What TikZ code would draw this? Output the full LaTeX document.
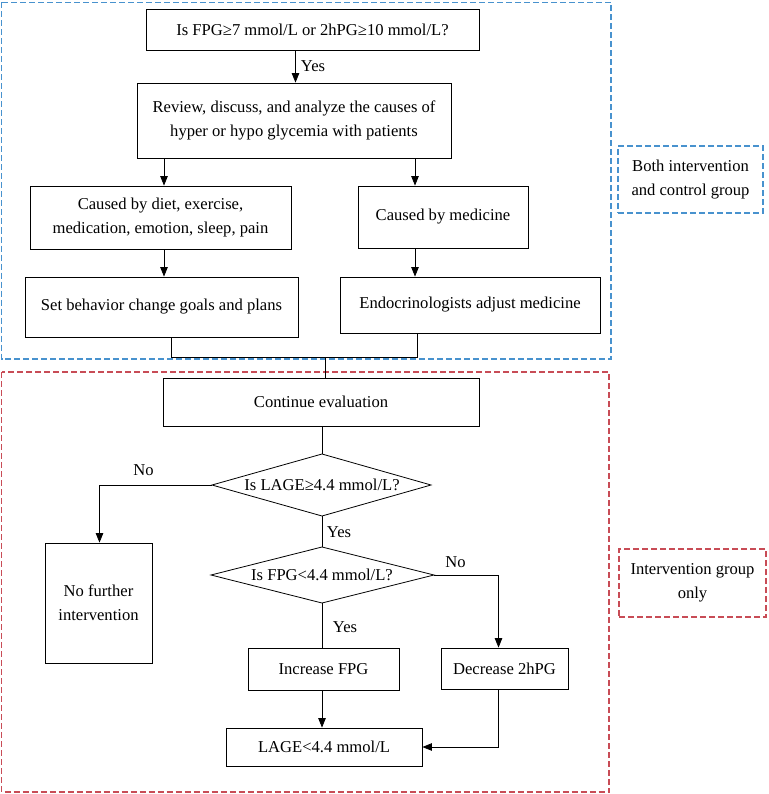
\documentclass[tikz,border=0pt]{standalone}
\usepackage{fontspec}
\setmainfont{Liberation Serif}
\usetikzlibrary{arrows.meta}
\definecolor{grpblue}{RGB}{72,146,206}
\definecolor{grpred}{RGB}{200,76,86}
\newcommand{\fsz}{\fontsize{16.6}{24}\selectfont}
\begin{document}
\begin{tikzpicture}[x=1pt,y=-1pt,
  box/.style={draw, line width=0.8pt, inner sep=0pt, align=center, font=\fsz},
  lbl/.style={inner sep=0pt, align=center, font=\fsz},
  arr/.style={line width=0.8pt, -{Triangle[length=9.5pt,width=7.5pt]}},
  ln/.style={line width=0.8pt},
  bluegrp/.style={draw=grpblue, line width=1.3pt, dash pattern=on 6pt off 3pt},
  redgrp/.style={draw=grpred, line width=1.3pt, dash pattern=on 6pt off 3pt}]
\useasboundingbox (0,0) rectangle (768,794);
% group frames
\draw[bluegrp] (1.5,2.5) rectangle (611,359);
\draw[redgrp] (1.5,372) rectangle (609,792);
% boxes
\node[box, minimum width=333pt, minimum height=41pt] (n1) at (312.5,29.5) {Is FPG≥7 mmol/L or 2hPG≥10 mmol/L?};
\node[box, minimum width=314pt, minimum height=75pt] (n2) at (294,120.5) {Review, discuss, and analyze the causes of\\hyper or hypo glycemia with patients};
\node[box, minimum width=261pt, minimum height=63pt] (n3) at (160.5,217.5) {Caused by diet, exercise,\\medication, emotion, sleep, pain};
\node[box, minimum width=170pt, minimum height=62pt] (n4) at (443,217) {Caused by medicine};
\node[box, minimum width=273pt, minimum height=60pt] (n5) at (161.5,307) {Set behavior change goals and plans};
\node[box, minimum width=260pt, minimum height=56pt] (n6) at (470,305) {Endocrinologists adjust medicine};
\node[box, minimum width=316pt, minimum height=48pt] (n7) at (321,402) {Continue evaluation};
\node[box, minimum width=107pt, minimum height=120pt] (n8) at (98.5,603) {No further\\intervention};
\node[box, minimum width=151pt, minimum height=42pt] (n9) at (323.5,669) {Increase FPG};
\node[box, minimum width=127pt, minimum height=41pt] (n10) at (504.5,668.5) {Decrease 2hPG};
\node[box, minimum width=196pt, minimum height=38pt] (n11) at (324,747) {LAGE<4.4 mmol/L};
\node[box, bluegrp, minimum width=145pt, minimum height=67pt] (g1) at (690.5,179.5) {Both intervention\\and control group};
\node[box, redgrp, minimum width=147pt, minimum height=68pt] (g2) at (692.5,583) {Intervention group\\only};
% diamonds
\coordinate (d1n) at (322,454); \coordinate (d1e) at (431,485);
\coordinate (d1s) at (322,516); \coordinate (d1w) at (212,485);
\draw[ln] (d1n) -- (d1e) -- (d1s) -- (d1w) -- cycle;
\node[lbl] (d1t) at (322,485) {Is LAGE≥4.4 mmol/L?};
\coordinate (d2n) at (322,547); \coordinate (d2e) at (434,575);
\coordinate (d2s) at (322,603); \coordinate (d2w) at (211,575);
\draw[ln] (d2n) -- (d2e) -- (d2s) -- (d2w) -- cycle;
\node[lbl] (d2t) at (322,575) {Is FPG<4.4 mmol/L?};
% helper x positions
\coordinate (xa) at (295.5,0);
\coordinate (xL) at (164,0);
\coordinate (xR) at (415,0);
\coordinate (bl) at (171,357);
\coordinate (br) at (417,357);
\coordinate (bm) at (325,357);
\coordinate (xn) at (99.5,0);
\coordinate (xd) at (498.5,0);
\coordinate (xc) at (322,0);
% connectors
\draw[arr] (n1.south -| xa) -- (n2.north -| xa);
\draw[arr] (n2.south -| xL) -- (n3.north -| xL);
\draw[arr] (n2.south -| xR) -- (n4.north -| xR);
\draw[arr] (n3.south -| xL) -- (n5.north -| xL);
\draw[arr] (n4.south -| xR) -- (n6.north -| xR);
\draw[ln] (n5.south -| bl) -- (bl) -- (br) -- (n6.south -| br);
\draw[ln] (bm) -- (n7.north -| bm);
\draw[ln] (n7.south -| d1n) -- (d1n);
\draw[arr] (d1w) -| (n8.north -| xn);
\draw[ln] (d1s) -- (d2n);
\draw[arr] (d2e) -| (n10.north -| xd);
\draw[ln] (d2s) -- (n9.north -| d2s);
\draw[arr] (n9.south -| xc) -- (n11.north -| xc);
\draw[arr] (n10.south -| xd) |- (n11.east);
% labels
\node[lbl] (y1) at (313,66) {Yes};
\node[lbl] (no1) at (143.5,470) {No};
\node[lbl] (y2) at (339,532) {Yes};
\node[lbl] (no2) at (455.5,562) {No};
\node[lbl] (y3) at (345,627) {Yes};
\end{tikzpicture}
\end{document}
